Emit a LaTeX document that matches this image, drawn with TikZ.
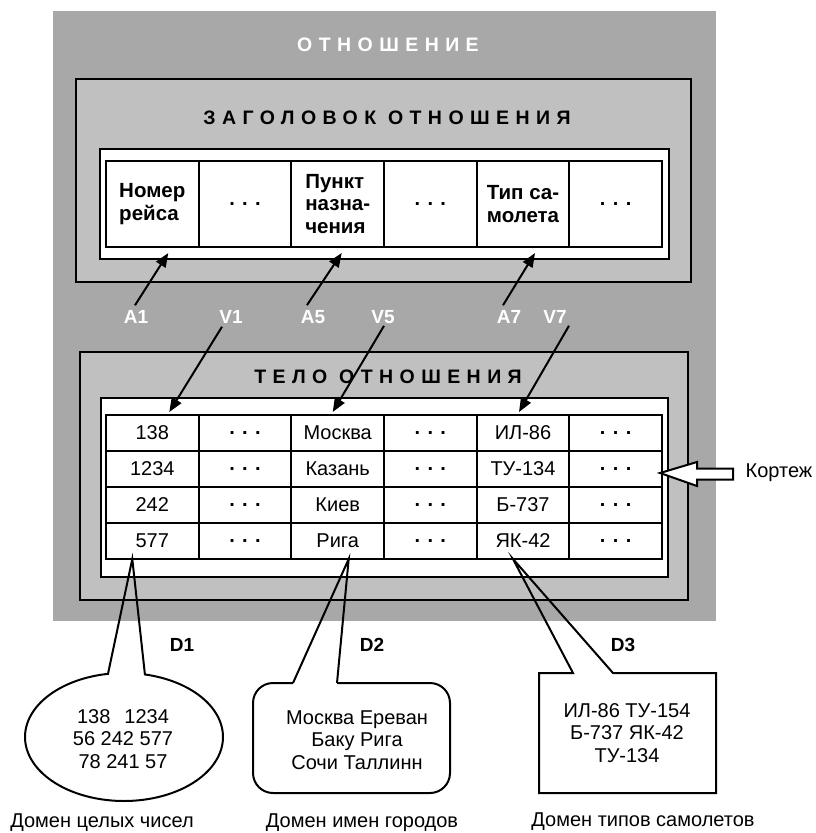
\documentclass[tikz,border=0pt]{standalone}
\usepackage{fontspec}
\setmainfont{Liberation Sans}
\usetikzlibrary{arrows.meta,calc}
\definecolor{outergray}{RGB}{168,168,168}
\definecolor{innergray}{RGB}{192,192,192}
\begin{document}
\begin{tikzpicture}[x=1pt,y=-1pt,
  every node/.style={font=\fontsize{20}{22}\selectfont, inner sep=0pt},
  boxframe/.style={draw=black, line width=2pt},
  inwhite/.style={draw=black, line width=1.5pt, fill=white},
  cellbox/.style={draw=black, line width=2pt, minimum width=92.67pt, inner sep=0pt},
  hcell/.style={cellbox, minimum height=86pt, align=left, font=\bfseries\fontsize{20.5}{22.5}\selectfont},
  bcell/.style={cellbox, minimum height=36pt},
  dotcell/.style={font=\bfseries\fontsize{20}{22}\selectfont},
  ttl/.style={font=\bfseries\fontsize{19.5}{22}\selectfont\addfontfeature{LetterSpace=33}},
  lbl/.style={font=\bfseries\fontsize{19}{22}\selectfont, text=white},
  dlbl/.style={font=\bfseries\fontsize{19}{22}\selectfont},
  ptr/.style={line width=2pt, -{Triangle[length=14pt,width=11pt]}},
  calloutline/.style={draw=black, line width=2pt, line join=miter},
  domtext/.style={align=center, font=\fontsize{20}{22.5}\selectfont},
]
\useasboundingbox (0,0) rectangle (815,833);

% relation background
\fill[outergray] (53,11) rectangle (716,621);
\node[ttl, text=white] (reltitle) at (388,45) {ОТНОШЕНИЕ};

% header
\draw[boxframe, fill=innergray] (76,79) rectangle (691,282);
\node[ttl] (hdrtitle) at (387,118) {ЗАГОЛОВОК ОТНОШЕНИЯ};
\draw[inwhite] (100,149) rectangle (669,259);
\node[hcell] (h1) at (152.3,204) {Номер\\рейса};
\node[hcell, dotcell] (h2) at (245.0,204) {. . .};
\node[hcell] (h3) at (337.7,204) {Пункт\\назна-\\чения};
\node[hcell, dotcell] (h4) at (430.3,204) {. . .};
\node[hcell] (h5) at (523.0,204) {Тип са-\\молета};
\node[hcell, dotcell] (h6) at (615.7,204) {. . .};

% body
\draw[boxframe, fill=innergray] (80,352) rectangle (688,600);
\node[ttl] (bodytitle) at (388,377) {ТЕЛО ОТНОШЕНИЯ};
\draw[inwhite] (101,398) rectangle (668,577);

\node[bcell] (b11) at (152.3,433) {138};
\node[bcell, dotcell] (b12) at (245.0,433) {. . .};
\node[bcell] (b13) at (337.7,433) {Москва};
\node[bcell, dotcell] (b14) at (430.3,433) {. . .};
\node[bcell] (b15) at (523.0,433) {ИЛ-86};
\node[bcell, dotcell] (b16) at (615.7,433) {. . .};

\node[bcell] (b21) at (152.3,469) {1234};
\node[bcell, dotcell] (b22) at (245.0,469) {. . .};
\node[bcell] (b23) at (337.7,469) {Казань};
\node[bcell, dotcell] (b24) at (430.3,469) {. . .};
\node[bcell] (b25) at (523.0,469) {ТУ-134};
\node[bcell, dotcell] (b26) at (615.7,469) {. . .};

\node[bcell] (b31) at (152.3,505) {242};
\node[bcell, dotcell] (b32) at (245.0,505) {. . .};
\node[bcell] (b33) at (337.7,505) {Киев};
\node[bcell, dotcell] (b34) at (430.3,505) {. . .};
\node[bcell] (b35) at (523.0,505) {Б-737};
\node[bcell, dotcell] (b36) at (615.7,505) {. . .};

\node[bcell] (b41) at (152.3,541) {577};
\node[bcell, dotcell] (b42) at (245.0,541) {. . .};
\node[bcell] (b43) at (337.7,541) {Рига};
\node[bcell, dotcell] (b44) at (430.3,541) {. . .};
\node[bcell] (b45) at (523.0,541) {ЯК-42};
\node[bcell, dotcell] (b46) at (615.7,541) {. . .};

% attribute / value labels
\node[lbl] (A1) at (136,317) {A1};
\node[lbl] (V1) at (231,317) {V1};
\node[lbl] (A5) at (313,317) {A5};
\node[lbl] (V5) at (383,317) {V5};
\node[lbl] (A7) at (509,317) {A7};
\node[lbl] (V7) at (555,317) {V7};

\draw[ptr] ($(A1.north)+(-1,-5)$) -- ($(h1.south)+(16,5)$);
\draw[ptr] ($(A5.north)+(-6,-5)$) -- ($(h3.south)+(4,5)$);
\draw[ptr] ($(A7.north)+(-6,-5)$) -- ($(h5.south)+(12,5)$);
\draw[ptr] ($(V1.south)+(-9,3)$) -- ($(b11.north)+(17,-2)$);
\draw[ptr] ($(V5.south)+(1,2)$) -- ($(b13.north)+(-5,-2)$);
\draw[ptr] ($(V7.south)+(14,2)$) -- ($(b15.north)+(-4,-2)$);

% tuple arrow
\node (kortezh) at (779,473) {Кортеж};
\draw[line width=2pt, fill=white, line join=miter]
  ($(b26.east)+(-3,4)$) -- (697,462) -- (697,468.5) -- (733,468.5)
  -- (733,479.5) -- (697,479.5) -- (697,486) -- cycle;

% domains
\coordinate (p1) at ($(b41.south)+(-20,-1)$);
\coordinate (p2) at ($(b43.south)+(11,-1)$);
\coordinate (p3) at ($(b45.south)+(-10,-1)$);

\draw[calloutline] plot[domain=-77.8:260.7, samples=140] ({124+99*cos(\x)},{737+64*sin(\x)}) -- (p1) -- cycle;
\node[domtext] (d1text) at (123,739) {138\hspace{14pt}1234\\56 242 577\\78 241 57};

\draw[calloutline, rounded corners=20pt] (293,683) -- (253,683) -- (253,793) -- (450,793) -- (450,683) -- (337,683);
\draw[calloutline] (293,683) -- (p2) -- (337,683);
\node[domtext] (d2text) at (357,740) {Москва Ереван\\Баку Рига\\Сочи Таллинн};

\draw[calloutline] (573,673) -- (539,673) -- (539,793) -- (716,793) -- (716,673) -- (613,673) -- (p3) -- cycle;
\node[domtext] (d3text) at (627,733) {ИЛ-86 ТУ-154\\Б-737 ЯК-42\\ТУ-134};

\node[dlbl] (D1) at (182,645) {D1};
\node[dlbl] (D2) at (372,645) {D2};
\node[dlbl] (D3) at (623,645) {D3};

\node (cap1) at (102,823) {Домен целых чисел};
\node (cap2) at (362,823) {Домен имен городов};
\node (cap3) at (643,822) {Домен типов самолетов};
\end{tikzpicture}
\end{document}
